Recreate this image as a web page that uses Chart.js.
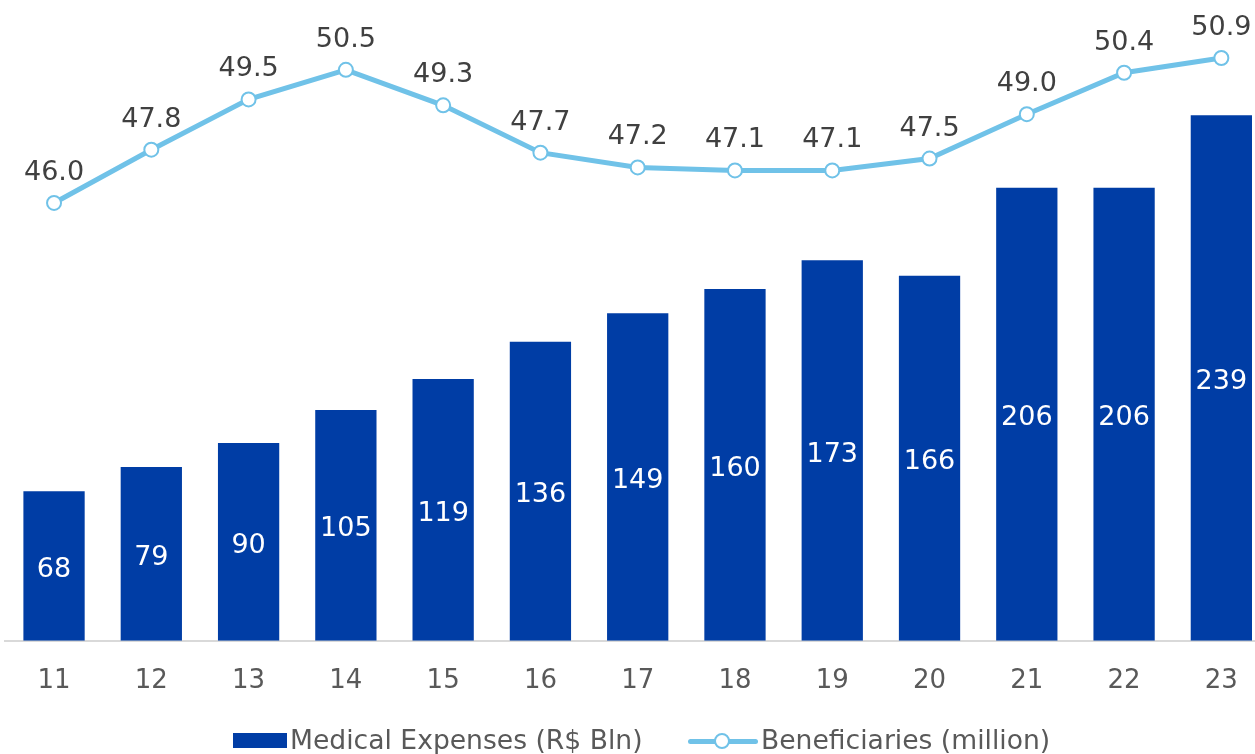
<!DOCTYPE html>
<html>
<head>
<meta charset="utf-8">
<script src="https://cdn.jsdelivr.net/npm/chart.js@4"></script>
<style>
  html, body { margin: 0; padding: 0; background: #fff; overflow: hidden; }
  #wrap { position: relative; width: 1270px; height: 754px; }
  #legend { position: absolute; top: 725px; left: 0; width: 1255px; font-family: "DejaVu Sans", Verdana, sans-serif; font-size: 26.6px; color: #595959; }
  .item { position: absolute; top: 0; white-space: nowrap; line-height: 30px; }
  .box { display: inline-block; width: 54px; height: 15px; background: #003DA5; vertical-align: middle; margin-right: 3px; position: relative; top: -1px; }
  .lineKey { display: inline-block; width: 70px; height: 16px; vertical-align: middle; position: relative; margin-right: 3px; top: -1px; }
  .lineKey:before { content: ""; position: absolute; left: 0; right: 0; top: 6px; height: 5px; background: #70C2E8; border-radius: 3px; }
  .lineKey:after { content: ""; position: absolute; left: 26px; top: 0; width: 12px; height: 12px; border: 2px solid #70C2E8; background: #fff; border-radius: 50%; }
</style>
</head>
<body>
<div id="wrap">
  <canvas id="chart" width="1270" height="754"></canvas>
  <div id="legend">
    <span class="item" style="left:233px"><span class="box"></span>Medical Expenses (R$ Bln)</span>
    <span class="item" style="left:688px"><span class="lineKey"></span>Beneficiaries (million)</span>
  </div>
</div>
<script>
const years = ['11', '12', '13', '14', '15', '16', '17', '18', '19', '20', '21', '22', '23'];
const medicalExpenses = [68, 79, 90, 105, 119, 136, 149, 160, 173, 166, 206, 206, 239];
const beneficiaries = [46.0, 47.8, 49.5, 50.5, 49.3, 47.7, 47.2, 47.1, 47.1, 47.5, 49.0, 50.4, 50.9];

const fontFamily = '"DejaVu Sans", Verdana, sans-serif';

// draws value labels: white in the middle of bars, grey above line points
const valueLabels = {
    id: 'valueLabels',
    afterDatasetsDraw(chart) {
        const c = chart.ctx;
        c.save();
        c.textAlign = 'center';
        c.textBaseline = 'middle';
        c.font = '27px ' + fontFamily;
        chart.getDatasetMeta(0).data.forEach((bar, i) => {
            c.fillStyle = '#ffffff';
            c.fillText(String(medicalExpenses[i]), bar.x, (bar.y + bar.base) / 2 + 4);
        });
        chart.getDatasetMeta(1).data.forEach((pt, i) => {
            c.fillStyle = '#404040';
            c.fillText(beneficiaries[i].toFixed(1), pt.x, pt.y - 30);
        });
        c.restore();
    }
};

new Chart(document.getElementById('chart'), {
    type: 'bar',
    data: {
        labels: years,
        datasets: [
            {
                type: 'bar',
                label: 'Medical Expenses (R$ Bln)',
                data: medicalExpenses,
                backgroundColor: '#003DA5',
                categoryPercentage: 1,
                barPercentage: 0.63,
                yAxisID: 'y',
                order: 2
            },
            {
                type: 'line',
                label: 'Beneficiaries (million)',
                data: beneficiaries,
                borderColor: '#70C2E8',
                borderWidth: 5,
                pointRadius: 7,
                pointBorderWidth: 2,
                pointBackgroundColor: '#ffffff',
                pointBorderColor: '#70C2E8',
                tension: 0,
                yAxisID: 'y1',
                clip: false,
                order: 1
            }
        ]
    },
    options: {
        responsive: false,
        animation: false,
        layout: { autoPadding: false, padding: { left: 5.4, right: 0, top: 0, bottom: 32 } },
        plugins: {
            legend: { display: false },
            tooltip: { enabled: false }
        },
        scales: {
            x: {
                offset: true,
                grid: { display: false, drawTicks: false },
                border: { display: true, color: '#d9d9d9', width: 2 },
                ticks: { color: '#595959', font: { family: fontFamily, size: 26 }, padding: 25 }
            },
            y: {
                display: false,
                min: 0,
                max: 291.4
            },
            y1: {
                display: false,
                position: 'right',
                min: 31.2,
                max: 52.86
            }
        }
    },
    plugins: [valueLabels]
});
</script>
</body>
</html>
